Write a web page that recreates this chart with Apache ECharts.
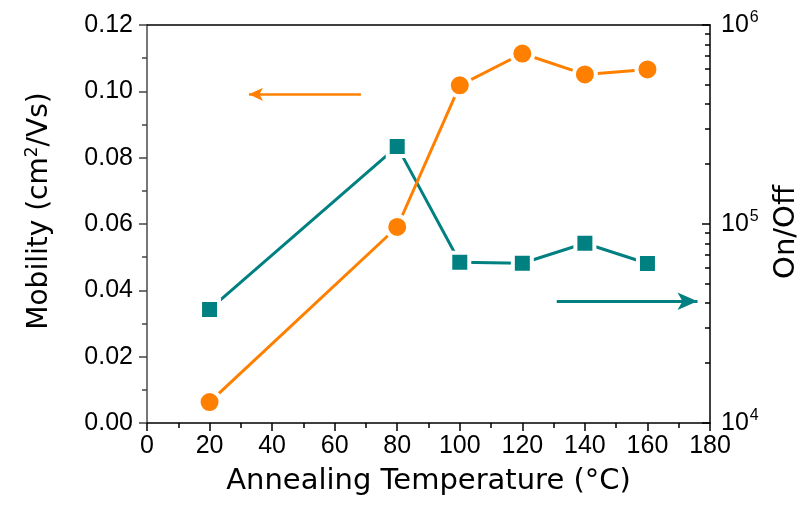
<!DOCTYPE html>
<html>
<head>
<meta charset="utf-8">
<script src="https://cdn.jsdelivr.net/npm/echarts@6/dist/echarts.min.js"></script>
<style>
  html, body { margin: 0; padding: 0; background: #fff; }
  #chart { width: 810px; height: 505px; }
</style>
</head>
<body>
<div id="chart"></div>
<script>
// annealing temperatures (°C)
const temps = [20, 80, 100, 120, 140, 160]
// mobility, cm^2/Vs (left axis)
const mobility = [0.0063, 0.0591, 0.1018, 0.1114, 0.1051, 0.1066]
// on/off ratio (right, log axis)
const onOff = [37200, 245500, 64300, 63500, 80000, 63300]
// minor tick positions of the log axis, inside each decade
const logMinor = [2, 3, 4, 5, 6, 7, 8, 9]

const orange = '#ff8000'
const teal = '#008080'
const font = 'Liberation Sans, Arial, sans-serif'
const nameFont = 'DejaVu Sans, sans-serif'

const minorVals = []
;[4, 5].forEach(function (d) {
  logMinor.forEach(function (m) { minorVals.push(d + Math.log10(m)) })
})

const gridBox = { left: 147, right: 100, top: 25, bottom: 82 }

const myChart = echarts.init(document.getElementById('chart'), null, { renderer: 'canvas' })

myChart.setOption({
  animation: false,
  textStyle: { fontFamily: font },
  grid: [gridBox, Object.assign({}, gridBox)],
  xAxis: [
    {
      type: 'value',
      min: 0,
      max: 180,
      interval: 20,
      position: 'bottom',
      name: 'Annealing Temperature (°C)',
      nameLocation: 'middle',
      nameGap: 44,
      nameTextStyle: { fontSize: 29, color: '#000', fontFamily: nameFont },
      axisLine: { onZero: false, lineStyle: { color: '#000', width: 1.5 } },
      axisTick: { inside: false, length: 8, lineStyle: { color: '#000', width: 1.5 } },
      minorTick: { show: true, splitNumber: 2, length: 5, lineStyle: { color: '#000', width: 1.5 } },
      axisLabel: { fontSize: 25, color: '#000', margin: 11, fontFamily: font },
      splitLine: { show: false },
    },
    {
      type: 'value',
      min: 0,
      max: 180,
      position: 'top',
      axisLine: { show: true, onZero: false, lineStyle: { color: '#000', width: 1.5 } },
      axisTick: { show: false },
      axisLabel: { show: false },
      splitLine: { show: false },
    },
    {
      // helper x axis of the second (overlay) grid
      gridIndex: 1,
      type: 'value',
      min: 0,
      max: 180,
      show: false,
    },
  ],
  yAxis: [
    {
      type: 'value',
      min: 0,
      max: 0.12,
      interval: 0.02,
      position: 'left',
      name: 'Mobility (cm{sup|2}/Vs)',
      nameLocation: 'middle',
      nameGap: 92,
      nameTextStyle: {
        fontSize: 28,
        color: '#000',
        fontFamily: nameFont,
        padding: [0, 0, 0, 26],
        rich: { sup: { fontSize: 17, verticalAlign: 'top', padding: [0, 0, 14, 0], color: '#000', fontFamily: nameFont } },
      },
      axisLine: { show: true, onZero: false, lineStyle: { color: '#777', width: 2 } },
      axisTick: { inside: false, length: 8, lineStyle: { color: '#444', width: 1.5 } },
      minorTick: { show: true, splitNumber: 2, length: 5, lineStyle: { color: '#444', width: 1.5 } },
      axisLabel: {
        fontSize: 25,
        color: '#000',
        margin: 14,
        fontFamily: font,
        formatter: function (v) { return v.toFixed(2) },
      },
      splitLine: { show: false },
    },
    {
      type: 'log',
      logBase: 10,
      min: 10000,
      max: 1000000,
      position: 'right',
      name: 'On/Off',
      nameLocation: 'middle',
      nameGap: 62,
      nameTextStyle: { fontSize: 29, color: '#000', fontFamily: nameFont, padding: [0, 16, 0, 0] },
      axisLine: { show: true, onZero: false, lineStyle: { color: '#000', width: 1.5 } },
      axisTick: { inside: true, length: 8, lineStyle: { color: '#000', width: 1.5 } },
      axisLabel: {
        color: '#000',
        margin: 11,
        fontFamily: font,
        formatter: function (v) {
          return '{b|10}{s|' + Math.round(Math.log10(v)) + '}'
        },
        rich: {
          b: { fontSize: 25, color: '#000', fontFamily: font },
          s: { fontSize: 16, color: '#000', fontFamily: font, verticalAlign: 'top', padding: [0, 0, 14, 1] },
        },
      },
      splitLine: { show: false },
    },
    {
      // decade minor ticks of the log axis, drawn in the overlay grid
      gridIndex: 1,
      type: 'value',
      min: 4,
      max: 6,
      position: 'right',
      axisLine: { show: false, onZero: false },
      axisTick: { show: true, inside: true, length: 5, customValues: minorVals, lineStyle: { color: '#000', width: 1.5 } },
      axisLabel: { show: false },
      splitLine: { show: false },
    },
  ],
  series: [
    {
      name: 'On/Off',
      type: 'line',
      yAxisIndex: 1,
      data: temps.map(function (t, i) { return [t, onOff[i]] }),
      symbol: 'rect',
      symbolSize: 19,
      lineStyle: { color: teal, width: 3 },
      itemStyle: { color: teal, borderColor: '#fff', borderWidth: 4 },
      z: 2,
      markLine: {
        silent: true,
        symbol: ['none', 'arrow'],
        symbolSize: [13, 20],
        label: { show: false },
        lineStyle: { color: teal, width: 3, type: 'solid' },
        data: [[{ coord: [131, 40900] }, { coord: [176, 40900] }]],
      },
    },
    {
      name: 'Mobility',
      type: 'line',
      yAxisIndex: 0,
      data: temps.map(function (t, i) { return [t, mobility[i]] }),
      symbol: 'circle',
      symbolSize: 22,
      lineStyle: { color: orange, width: 3 },
      itemStyle: { color: orange, borderColor: '#fff', borderWidth: 4 },
      z: 3,
      markLine: {
        silent: true,
        symbol: ['none', 'arrow'],
        symbolSize: [10, 14],
        label: { show: false },
        lineStyle: { color: orange, width: 2.5, type: 'solid' },
        data: [[{ coord: [68.4, 0.0991] }, { coord: [32.6, 0.0991] }]],
      },
    },
  ],
})
</script>
</body>
</html>
